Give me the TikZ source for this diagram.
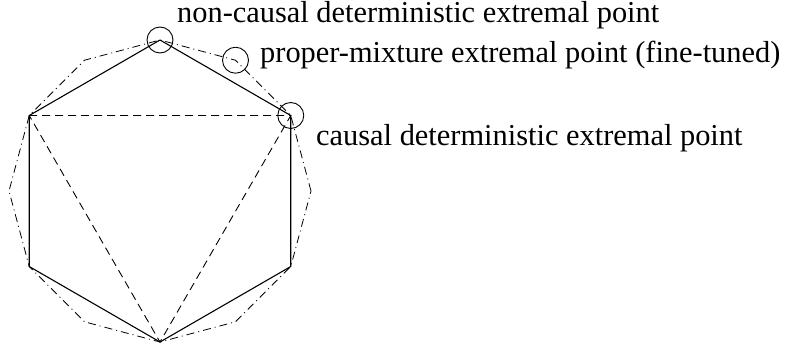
\documentclass[tikz,border=0pt]{standalone}
\usepackage{fontspec}
\setmainfont{Liberation Serif}
\begin{document}
\begin{tikzpicture}[x=1pt,y=1pt,
  solidedge/.style={line width=1.1pt, black, line join=round},
  dashedge/.style={line width=0.9pt, black, dash pattern=on 8pt off 5pt},
  dashdotedge/.style={line width=0.8pt, black, dash pattern=on 8pt off 4pt on 1pt off 4pt},
  marker/.style={circle, draw, line width=0.9pt, minimum size=26pt, inner sep=0pt},
  lbl/.style={anchor=base west, inner sep=0pt, font=\fontsize{30.4}{36}\selectfont}]
\useasboundingbox (0,0) rectangle (787,349);
\coordinate (c) at (160,158);
\foreach \i in {0,...,11} {
  \path (c) ++({\i*30}:151) coordinate (v\i);
}
% twelve-gon (dash-dot)
\draw[dashdotedge] (v0) -- (v1) -- (v2) -- (v3) -- (v4) -- (v5) -- (v6) -- (v7) -- (v8) -- (v9) -- (v10) -- (v11) -- cycle;
% dashed triangle
\draw[dashedge] (v5) -- (v1) -- (v9) -- cycle;
% solid hexagon
\draw[solidedge] (v1) -- (v3) -- (v5) -- (v7) -- (v9) -- (v11) -- cycle;
% markers
\node[marker] (m3) at (v3) {};
\node[marker] (m2) at (v2) {};
\node[marker] (m1) at (v1) {};
% labels
\node[lbl] (t1) at (177,326.3) {non-causal deterministic extremal point};
\node[lbl] (t2) at (260,286.3) {proper-mixture extremal point (fine-tuned)};
\node[lbl] (t3) at (316,203.5) {causal deterministic extremal point};
\end{tikzpicture}
\end{document}
